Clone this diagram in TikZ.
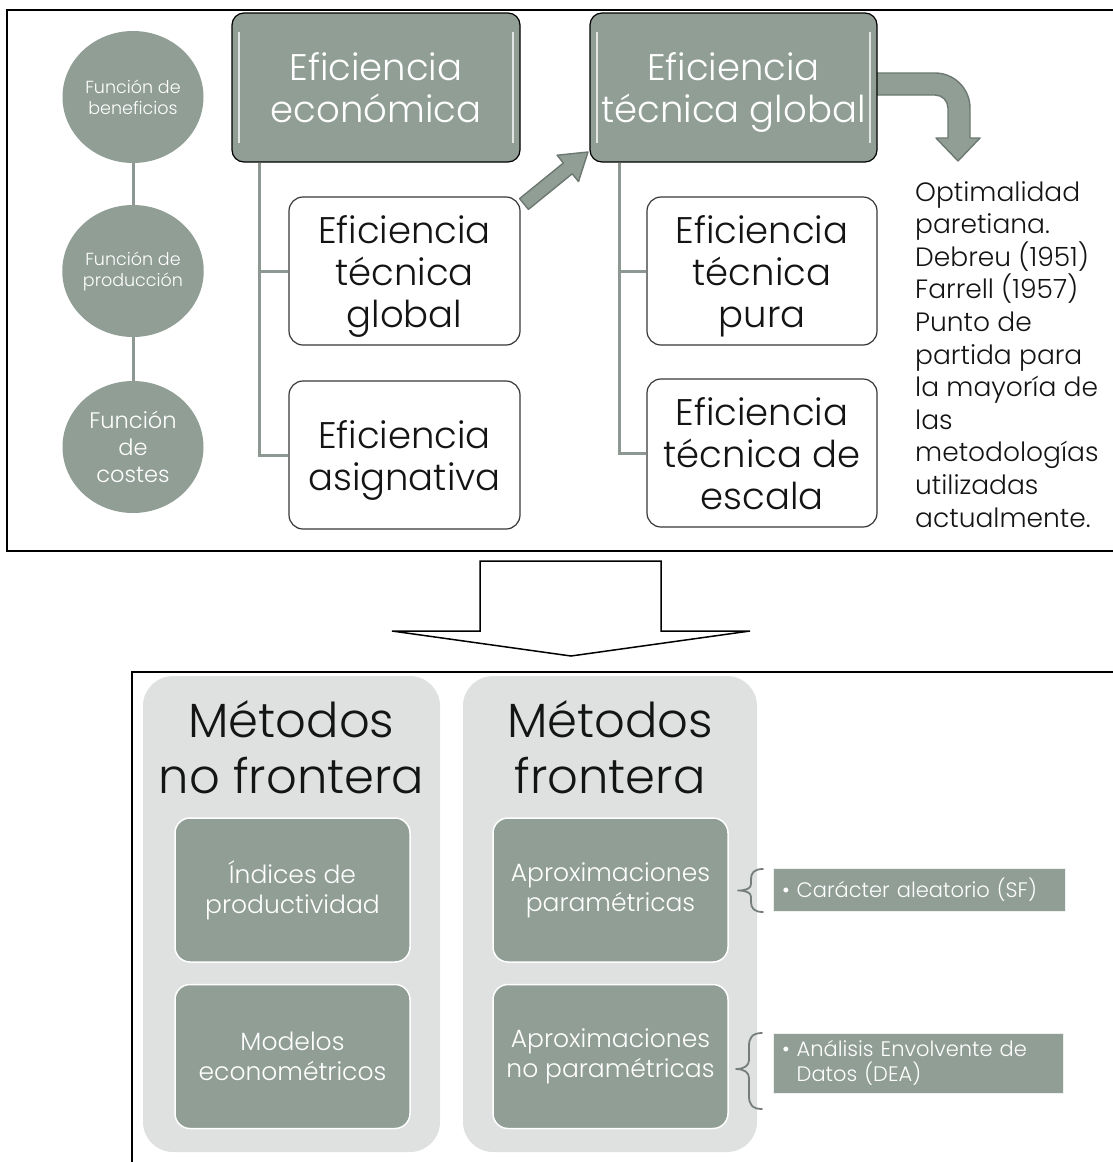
\documentclass[tikz,border=0pt]{standalone}
\usepackage{fontspec}
\setmainfont{Poppins}[UprightFont={* Light}]
\usetikzlibrary{shapes.geometric,backgrounds}
\definecolor{sage}{RGB}{144,158,150}
\definecolor{sagedark}{RGB}{108,120,113}
\definecolor{treeline}{RGB}{140,152,145}
\definecolor{panel}{RGB}{222,225,224}
\definecolor{ink}{RGB}{20,20,20}
\definecolor{bracegray}{RGB}{118,126,122}
\newcommand{\fsz}[2]{\fontsize{#1}{#2}\selectfont}
\begin{document}
\begin{tikzpicture}[x=1pt,y=-1pt,
  frame/.style={line width=2.6pt,black},
  circ/.style={ellipse,fill=sage,text=white,align=center,inner sep=0pt,minimum width=141pt,minimum height=132pt},
  graybox/.style={draw=black,line width=1.2pt,fill=sage,rounded corners=12pt,text=white,align=center,inner sep=0pt,text depth=0pt,font=\fsz{37}{42}},
  whitebox/.style={draw=ink!85,line width=1.2pt,fill=white,rounded corners=14pt,text=ink,align=center,inner sep=0pt,text depth=0pt,font=\fsz{37}{42}},
  tree/.style={treeline,line width=3pt},
  hilite/.style={white,line width=2pt,opacity=0.75},
  blockarrow/.style={fill=sage,draw=sagedark,line width=1.4pt,line join=round},
  panelbox/.style={fill=panel,rounded corners=30pt,inner sep=0pt},
  ptitle/.style={align=center,inner sep=0pt,text=ink,font=\fsz{48}{56}},
  innerbox/.style={fill=sage,draw=white,line width=1.5pt,rounded corners=15pt,text=white,align=center,inner sep=0pt,font=\fsz{25}{30},minimum width=235pt,minimum height=144pt},
  labbox/.style={fill=sage,draw=white!85!sage,line width=0.8pt,text=white,align=left,inner sep=0pt,font=\fsz{21}{25}},
  bracestyle/.style={draw=bracegray,line width=1.8pt,line join=round,line cap=round}
]
\useasboundingbox (0,0) rectangle (1112,1162);

% frames
\draw[frame] (1114,10) -- (7,10) -- (7,551) -- (1114,551);
\draw[frame] (1114,672) -- (132,672) -- (132,1164);

% left column circles
\node[circ,font=\fsz{17.5}{21}] (c1) at (133,97) {Función de\\beneficios};
\node[circ,font=\fsz{17.5}{21}] (c2) at (133,271) {Función de\\producción};
\node[circ,font=\fsz{22.5}{27}] (c3) at (133,447) {Función\\de\\costes};
\draw[tree] (c1) -- (c2);
\draw[tree] (c2) -- (c3);

% arrows (shapes)
\draw[blockarrow] (519.6,198.6) -- (563.4,163.0) -- (557.1,155.2) -- (588,152) -- (578.5,181.6) -- (572.2,173.8) -- (528.4,209.4) -- cycle;
\draw[blockarrow] (870,73) -- (935,73) .. controls (954.3,73) and (970,88.7) .. (970,108) -- (970,138) -- (980,138) -- (958,161) -- (936,138) -- (948,138) -- (948,108) .. controls (948,100.8) and (942.2,95) .. (935,95) -- (870,95) -- cycle;

% left tree
\node[graybox,minimum width=288pt,minimum height=149pt] (ee) at (376,87.5) {Eficiencia\\económica};
\node[whitebox,minimum width=231pt,minimum height=148pt] (etg1) at (404.5,271) {Eficiencia\\técnica\\global};
\node[whitebox,minimum width=231pt,minimum height=148pt] (ea) at (404.5,455) {Eficiencia\\asignativa};
\draw[tree] ([xshift=28pt]ee.south west) |- (etg1.west);
\draw[tree] ([xshift=28pt]ee.south west) |- (ea.west);

% right tree
\node[graybox,minimum width=287pt,minimum height=149pt] (etg2) at (733.5,87.5) {Eficiencia\\técnica global};
\node[whitebox,minimum width=230pt,minimum height=148pt] (etp) at (762,271) {Eficiencia\\técnica\\pura};
\node[whitebox,minimum width=230pt,minimum height=148pt] (ete) at (762,453) {Eficiencia\\técnica de\\escala};
\draw[tree] ([xshift=30pt]etg2.south west) |- (etp.west);
\draw[tree] ([xshift=30pt]etg2.south west) |- (ete.west);

% highlights on gray boxes
\foreach \b in {ee,etg2}{
  \draw[hilite] ([shift={(8pt,-20pt)}]\b.north west) -- ([shift={(8pt,20pt)}]\b.south west);
  \draw[hilite] ([shift={(-8pt,-20pt)}]\b.north east) -- ([shift={(-8pt,20pt)}]\b.south east);
}

% side text
\node[anchor=north west,inner sep=0pt,align=left,text=ink,font=\fsz{26.5}{32.6}] (opt) at (915,181) {Optimalidad\\paretiana.\\Debreu (1951)\\Farrell (1957)\\Punto de\\partida para\\la mayoría de\\las\\metodologías\\utilizadas\\actualmente.};

% big down arrow
\draw[line width=1.5pt,fill=white,line join=miter] (480,561) -- (661,561) -- (661,631) -- (750,631) -- (571,656) -- (392,631) -- (480,631) -- cycle;

% bottom panels
\node[panelbox,minimum width=297pt,minimum height=476pt] (p1) at (291.5,914) {};
\node[panelbox,minimum width=294pt,minimum height=476pt] (p2) at (610,914) {};
\node[ptitle] (t1) at (291.5,747) {Métodos\\no frontera};
\node[ptitle] (t2) at (610,747) {Métodos\\frontera};
\node[innerbox] (ip) at (292.5,890) {Índices de\\productividad};
\node[innerbox] (me) at (292.5,1056.5) {Modelos\\econométricos};
\node[innerbox] (ap) at (610.5,890) {Aproximaciones\\paramétricas};
\node[innerbox] (anp) at (610.5,1056.5) {Aproximaciones\\no paramétricas};

% labels
\node[labbox,minimum width=292pt,minimum height=43pt,text width=274pt] (lab1) at (919,889.5) {\textbullet\ Carácter aleatorio (SF)};
\node[labbox,minimum width=290pt,minimum height=60pt,text width=272pt] (lab2) at (918,1063) {\textbullet\ Análisis Envolvente de\\\hphantom{\textbullet\ }Datos (DEA)};

% braces
\draw[bracestyle] (763,869) .. controls (754,869) and (751,873) .. (751,879) -- (751,884) .. controls (751,888) and (747,890.5) .. (738,890.5) .. controls (747,890.5) and (751,893) .. (751,897) -- (751,902) .. controls (751,908) and (754,912) .. (763,912);
\draw[bracestyle] (762,1033) .. controls (752,1033) and (749,1038) .. (749,1046) -- (749,1060) .. controls (749,1065) and (745,1069) .. (736,1069) .. controls (745,1069) and (749,1073) .. (749,1078) -- (749,1096) .. controls (749,1104) and (752,1109) .. (762,1109);
\end{tikzpicture}
\end{document}
